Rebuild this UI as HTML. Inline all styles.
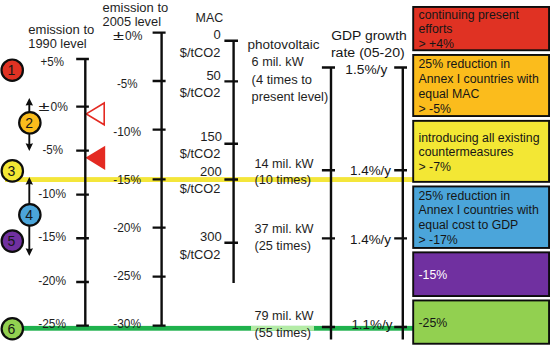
<!DOCTYPE html>
<html>
<head>
<meta charset="utf-8">
<title>Emission reduction options</title>
<style>
html,body{margin:0;padding:0;background:#fff;}
body{width:550px;height:345px;overflow:hidden;}
svg{display:block;}
text{font-family:"Liberation Sans",sans-serif;fill:#161616;}
.c{font-size:13px;fill:#1e1e1e;}
.a{font-size:12.3px;}
.g{font-size:13.7px;}
.n{font-size:14px;text-anchor:middle;}
.ax{stroke:#0d0d0d;stroke-width:2.4;fill:none;}
.bx{stroke:#0d0d0d;stroke-width:1.900;}
</style>
</head>
<body>
<svg width="550" height="345" viewBox="0 0 550 345">
<rect width="550" height="345" fill="#fff"/>

<rect x="5" y="177.100" width="408" height="4.900" fill="#f4e63a"/>
<rect x="14" y="325.900" width="399" height="4.800" fill="#1fb14c"/>
<rect x="251" y="325.900" width="63" height="4.800" fill="#b4eca6"/>
<text class="c" x="28.3" y="34.1" textLength="66" lengthAdjust="spacingAndGlyphs">emission to</text>
<text class="c" x="28.3" y="47.8" textLength="58.4" lengthAdjust="spacingAndGlyphs">1990 level</text>
<text class="c" x="40.6" y="66.1" textLength="23.4" lengthAdjust="spacingAndGlyphs">+5%</text>
<text class="c" y="110.5"><tspan x="38.5" textLength="11" lengthAdjust="spacingAndGlyphs">±</tspan><tspan x="50.6" textLength="17.400" lengthAdjust="spacingAndGlyphs">0%</tspan></text>
<text class="c" x="42.4" y="154.1" textLength="20.6" lengthAdjust="spacingAndGlyphs">-5%</text>
<text class="c" x="38.2" y="197.9" textLength="27.8" lengthAdjust="spacingAndGlyphs">-10%</text>
<text class="c" x="38.2" y="241.1" textLength="27.8" lengthAdjust="spacingAndGlyphs">-15%</text>
<text class="c" x="38.2" y="284.9" textLength="27.8" lengthAdjust="spacingAndGlyphs">-20%</text>
<text class="c" x="38.2" y="328.1" textLength="27.8" lengthAdjust="spacingAndGlyphs">-25%</text>
<path class="ax" d="M161.6 32.6V326.8M152.6 32.6H165.6M152.6 81H165.6M152.6 129.6H165.6M152.6 179.4H165.6M152.6 227.6H165.6M152.6 276.6H165.6M152.6 325.6H165.6"/>
<text class="c" x="102.6" y="11.5" textLength="65.6" lengthAdjust="spacingAndGlyphs">emission to</text>
<text class="c" x="102.6" y="25.6" textLength="58.4" lengthAdjust="spacingAndGlyphs">2005 level</text>
<text class="c" y="40.3"><tspan x="112.9" textLength="11" lengthAdjust="spacingAndGlyphs">±</tspan><tspan x="125" textLength="17.400" lengthAdjust="spacingAndGlyphs">0%</tspan></text>
<text class="c" x="117" y="87.9" textLength="20.6" lengthAdjust="spacingAndGlyphs">-5%</text>
<text class="c" x="113.2" y="135.5" textLength="27.8" lengthAdjust="spacingAndGlyphs">-10%</text>
<text class="c" x="113.2" y="184.1" textLength="27.8" lengthAdjust="spacingAndGlyphs">-15%</text>
<text class="c" x="113.2" y="232.1" textLength="27.8" lengthAdjust="spacingAndGlyphs">-20%</text>
<text class="c" x="113.2" y="280.1" textLength="27.8" lengthAdjust="spacingAndGlyphs">-25%</text>
<text class="c" x="113.2" y="328.1" textLength="27.8" lengthAdjust="spacingAndGlyphs">-30%</text>
<path class="ax" d="M233.6 40.6V283M224.4 40.7H238M224.4 81.4H238M224.4 143.7H238M224.4 179.5H238M224.4 242.7H238"/>
<text class="c" x="195.6" y="21.9" textLength="27.6" lengthAdjust="spacingAndGlyphs">MAC</text>
<text class="c" x="213.6" y="39.2">0</text>
<text class="c" x="206.4" y="79.5">50</text>
<text class="c" x="200.2" y="140.5">150</text>
<text class="c" x="200" y="175.8">200</text>
<text class="c" x="200" y="241.2">300</text>
<text class="c" x="179.8" y="56.8" textLength="40.6" lengthAdjust="spacingAndGlyphs">$/tCO2</text>
<text class="c" x="179.8" y="96.9" textLength="40.6" lengthAdjust="spacingAndGlyphs">$/tCO2</text>
<text class="c" x="179.8" y="158.3" textLength="40.6" lengthAdjust="spacingAndGlyphs">$/tCO2</text>
<text class="c" x="179.8" y="193.2" textLength="40.6" lengthAdjust="spacingAndGlyphs">$/tCO2</text>
<text class="c" x="179.8" y="258.5" textLength="40.6" lengthAdjust="spacingAndGlyphs">$/tCO2</text>
<text class="c" x="247.5" y="49.1" textLength="72" lengthAdjust="spacingAndGlyphs">photovoltaic</text>
<text class="c" x="251.6" y="66.1" textLength="52" lengthAdjust="spacingAndGlyphs">6 mil. kW</text>
<text class="c" x="251.6" y="83.5" textLength="60.4" lengthAdjust="spacingAndGlyphs">(4 times to</text>
<text class="c" x="251.6" y="100.5" textLength="76.6" lengthAdjust="spacingAndGlyphs">present level)</text>
<text class="c" x="254.4" y="167.9" textLength="59.2" lengthAdjust="spacingAndGlyphs">14 mil. kW</text>
<text class="c" x="254.4" y="184.1" textLength="56.6" lengthAdjust="spacingAndGlyphs">(10 times)</text>
<text class="c" x="254.4" y="232.9" textLength="59.2" lengthAdjust="spacingAndGlyphs">37 mil. kW</text>
<text class="c" x="254.4" y="249.9" textLength="56.6" lengthAdjust="spacingAndGlyphs">(25 times)</text>
<text class="c" x="254.4" y="320.1" textLength="59.2" lengthAdjust="spacingAndGlyphs">79 mil. kW</text>
<text class="c" x="254.4" y="336.5" textLength="56.6" lengthAdjust="spacingAndGlyphs">(55 times)</text>
<path class="ax" d="M331 67.4V339.6M321.9 67.5H335M321.9 170.2H335M321.9 238.4H335M321.9 327H335"/>
<path class="ax" d="M402.8 67.4V339.6M394.2 67.5H407M394.2 170.2H407M394.2 238.4H407M394.2 327H407"/>
<text class="g" x="331.2" y="40" textLength="75.6" lengthAdjust="spacingAndGlyphs">GDP growth</text>
<text class="g" x="330.9" y="56.6" textLength="73.8" lengthAdjust="spacingAndGlyphs">rate (05-20)</text>
<text class="g" x="345.3" y="74" textLength="42" lengthAdjust="spacingAndGlyphs">1.5%/y</text>
<text class="g" x="350" y="175.4" textLength="41" lengthAdjust="spacingAndGlyphs">1.4%/y</text>
<text class="g" x="350" y="244.4" textLength="41" lengthAdjust="spacingAndGlyphs">1.4%/y</text>
<text class="g" x="351.4" y="329" textLength="41" lengthAdjust="spacingAndGlyphs">1.1%/y</text>
<rect class="bx" x="413.200" y="6.95" width="135.850" height="43.3" fill="#e03223"/>
<rect class="bx" x="413.200" y="54.95" width="135.850" height="61.1" fill="#fbbc1c"/>
<rect class="bx" x="413.200" y="120.85" width="135.850" height="61" fill="#f3e734"/>
<rect class="bx" x="413.200" y="186.45" width="135.850" height="61.5" fill="#4ba5da"/>
<rect class="bx" x="413.200" y="252.35" width="135.850" height="43.7" fill="#7030a0"/>
<rect class="bx" x="413.200" y="300.45" width="135.850" height="43.3" fill="#92d050"/>
<text class="a" x="418.5" y="18.5">continuing present</text>
<text class="a" x="418.5" y="32.8">efforts</text>
<text class="a" x="418.5" y="47.9">&gt; +4%</text>
<text class="a" x="418.5" y="68">25% reduction in</text>
<text class="a" x="418.5" y="83">Annex I countries with</text>
<text class="a" x="418.5" y="97.8">equal MAC</text>
<text class="a" x="418.5" y="113">&gt; -5%</text>
<text class="a" x="418.5" y="141.5">introducing all existing</text>
<text class="a" x="418.5" y="155.9">countermeasures</text>
<text class="a" x="418.5" y="170.5">&gt; -7%</text>
<text class="a" x="418.5" y="199.5">25% reduction in</text>
<text class="a" x="418.5" y="214">Annex I countries with</text>
<text class="a" x="418.5" y="229">equal cost to GDP</text>
<text class="a" x="418.5" y="244.2">&gt; -17%</text>
<text class="a" x="418.5" y="327.3">-25%</text>
<text class="a" x="418.5" y="279.3" style="fill:#fff">-15%</text>
<path d="M29.3 102.3V146.5" stroke="#0d0d0d" stroke-width="1.900" fill="none"/>
<path d="M29.3 97.9L25.6 105.6Q29.3 104.2 33 105.6Z" fill="#0d0d0d"/>
<path d="M29.3 150.9L25.6 143.2Q29.3 144.6 33 143.2Z" fill="#0d0d0d"/>
<path d="M29.3 181.4V251.5" stroke="#0d0d0d" stroke-width="1.900" fill="none"/>
<path d="M29.3 177L25.6 184.7Q29.3 183.3 33 184.7Z" fill="#0d0d0d"/>
<path d="M29.3 255.9L25.6 248.2Q29.3 249.6 33 248.2Z" fill="#0d0d0d"/>
<path d="M86.300 113.900L104.200 103V124.800Z" fill="#fff" stroke="#e42a22" stroke-width="1.600" stroke-linejoin="miter"/>
<path d="M85.300 157.800L105.200 145.700V169.900Z" fill="#e42a22"/>
<path class="ax" d="M85.3 59V326.8M76.2 59H88.9M76.2 106.6H88.9M76.2 150.6H88.9M76.2 194.6H88.9M76.2 238.2H88.9M76.2 282H88.9M76.2 325.6H88.9"/>
<g stroke="#0d0d0d" stroke-width="2.200">
<circle cx="12.2" cy="70.2" r="10.700" fill="#e03223"/>
<circle cx="29.85" cy="122.8" r="10.700" fill="#fbbc1c"/>
<circle cx="12.3" cy="170.9" r="10.700" fill="#f3e734"/>
<circle cx="29.85" cy="214.85" r="10.700" fill="#4ba5da"/>
<circle cx="12.3" cy="241.1" r="10.700" fill="#7030a0"/>
<circle cx="12.3" cy="328.75" r="10.700" fill="#92d050"/>
</g>
<text class="n" x="11.4" y="75">1</text>
<text class="n" x="29.05" y="127.6">2</text>
<text class="n" x="11.5" y="175.7">3</text>
<text class="n" x="29.05" y="219.65">4</text>
<text class="n" x="11.5" y="245.9">5</text>
<text class="n" x="11.5" y="333.55">6</text>
</svg>
</body>
</html>
